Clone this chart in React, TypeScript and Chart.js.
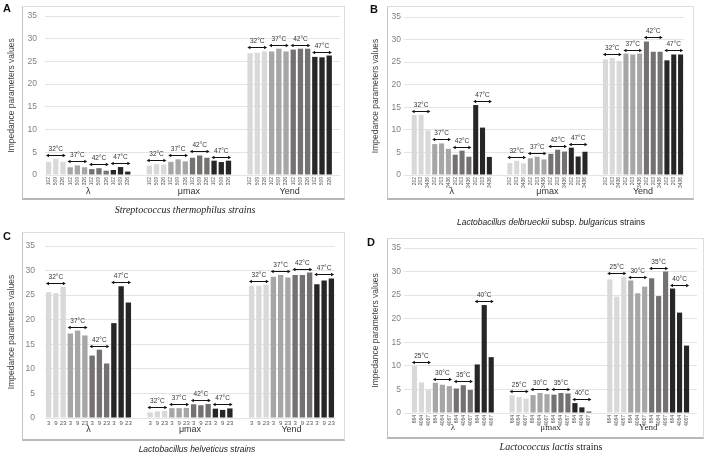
import React, { useEffect, useRef } from "react";
import { Chart, registerables } from "chart.js";
Chart.register(...registerables);

const groupLabels = ["λ", "μmax", "Yend"];
const tempsHigh = ["32°C", "37°C", "42°C", "47°C"];
const tempsLow = ["25°C", "30°C", "35°C", "40°C"];
const yAxisTitle = "Impedance parameters values";

const strainsA = ["102", "509", "326"];
const lambdaA = [2.9, 3.6, 2.9, 1.7, 2.1, 1.7, 1.3, 1.5, 0.95, 1.1, 1.75, 0.75];
const mumaxA = [2.05, 2.4, 2.3, 2.9, 3.45, 3.0, 3.8, 4.3, 3.8, 3.15, 2.85, 3.15];
const yendA = [26.8, 26.9, 27.2, 27.2, 27.8, 27.2, 27.6, 27.8, 27.8, 26.0, 25.9, 26.3];

const strainsB = ["202", "203", "3436"];
const lambdaB = [13.3, 13.3, 9.9, 6.85, 7.0, 5.8, 4.5, 5.4, 4.05, 15.5, 10.5, 4.0];
const mumaxB = [2.65, 3.15, 2.6, 3.7, 4.05, 3.45, 4.7, 5.6, 5.2, 6.05, 4.1, 5.15];
const yendB = [25.6, 25.9, 25.3, 26.9, 26.7, 26.9, 29.6, 27.3, 27.3, 25.4, 26.7, 26.7];

const strainsC = ["3", "9", "23"];
const lambdaC = [25.6, 25.4, 26.7, 17.2, 17.8, 16.8, 12.7, 13.9, 11.1, 19.3, 26.8, 23.5];
const mumaxC = [1.15, 1.35, 1.45, 2.0, 2.0, 2.05, 2.8, 2.6, 2.85, 1.9, 1.65, 1.95];
const yendC = [26.9, 26.9, 27.1, 28.75, 29.1, 28.6, 29.1, 29.1, 29.6, 27.2, 28.0, 28.4];

const strainsD = ["664", "4064", "4067"];
const lambdaD = [9.95, 6.5, 4.95, 6.4, 6.0, 5.7, 5.2, 5.9, 4.9, 10.3, 22.9, 11.85];
const mumaxD = [3.75, 3.4, 3.05, 3.8, 4.25, 4.0, 3.9, 4.25, 4.15, 2.1, 1.2, 0.3];
const yendD = [28.3, 24.7, 28.9, 28.1, 25.4, 26.8, 28.6, 24.8, 30.0, 26.4, 21.3, 14.3];

const SHADES = ["#d9d9d9", "#a6a6a6", "#767171", "#262626"];
const SANS = "'Liberation Sans', Arial, sans-serif";
const SERIF = "'Liberation Serif', 'Times New Roman', serif";

function buildSeries(lead: number, trail: number, groups: number[][], strains: string[]) {
  const labels: string[] = [];
  const values: (number | null)[] = [];
  const colors: string[] = [];
  const blank = () => {
    labels.push("");
    values.push(null);
    colors.push("rgba(0,0,0,0)");
  };
  for (let i = 0; i < lead; i++) blank();
  groups.forEach((g, gi) => {
    if (gi > 0) {
      blank();
      blank();
    }
    g.forEach((v, j) => {
      labels.push(strains[j % 3]);
      values.push(v);
      colors.push(SHADES[Math.floor(j / 3)]);
    });
  });
  for (let i = 0; i < trail; i++) blank();
  return { labels, values, colors };
}

const annotPlugin = {
  id: "annot",
  afterDatasetsDraw(chart: any, _args: any, opts: any) {
    const cfg = opts.cfg;
    if (!cfg) return;
    const { ctx, chartArea } = chart;
    const meta = chart.getDatasetMeta(0);
    ctx.save();
    for (let g = 0; g < 3; g++) {
      const base = cfg.lead + g * 14;
      const first = meta.data[base];
      const last = meta.data[base + 11];
      ctx.fillStyle = "#333333";
      ctx.font = `9px ${cfg.groupFont}`;
      ctx.textAlign = "center";
      ctx.textBaseline = "middle";
      ctx.fillText(groupLabels[g], (first.x + last.x) / 2, chartArea.bottom + cfg.groupOffset);
      for (let t = 0; t < 4; t++) {
        const els = [0, 1, 2].map((k) => meta.data[base + t * 3 + k]);
        const top = Math.min(...els.map((e: any) => e.y));
        const x1 = els[0].x - els[0].width / 2;
        const x2 = els[2].x + els[2].width / 2;
        const ay = Math.round(top - 4) + 0.5;
        ctx.strokeStyle = "#111111";
        ctx.fillStyle = "#111111";
        ctx.lineWidth = 1;
        ctx.beginPath();
        ctx.moveTo(x1 + 2, ay);
        ctx.lineTo(x2 - 2, ay);
        ctx.stroke();
        ctx.beginPath();
        ctx.moveTo(x1, ay);
        ctx.lineTo(x1 + 3, ay - 1.8);
        ctx.lineTo(x1 + 3, ay + 1.8);
        ctx.closePath();
        ctx.fill();
        ctx.beginPath();
        ctx.moveTo(x2, ay);
        ctx.lineTo(x2 - 3, ay - 1.8);
        ctx.lineTo(x2 - 3, ay + 1.8);
        ctx.closePath();
        ctx.fill();
        ctx.fillStyle = "#333333";
        ctx.font = `6.5px ${SANS}`;
        ctx.fillText(cfg.temps[t], (x1 + x2) / 2, ay - 6);
      }
    }
    ctx.restore();
  },
};

type PanelProps = {
  x: number;
  y: number;
  w: number;
  h: number;
  letter: string;
  letterPos: [number, number];
  frame: [number, number, number, number];
  area: { left: number; right: number; top: number; bottom: number };
  lead: number;
  trail: number;
  groups: number[][];
  strains: string[];
  temps: string[];
  yTitleX: number;
  yPad: number;
  groupOffset: number;
  groupFont: string;
  rotate: boolean;
  title: React.ReactNode;
  titlePos: [number, number];
  titleFont: string;
};

function Panel(p: PanelProps) {
  const ref = useRef<HTMLCanvasElement>(null);
  useEffect(() => {
    const s = buildSeries(p.lead, p.trail, p.groups, p.strains);
    const chart = new Chart(ref.current as HTMLCanvasElement, {
      type: "bar",
      data: {
        labels: s.labels,
        datasets: [
          {
            data: s.values,
            backgroundColor: s.colors,
            barPercentage: 0.74,
            categoryPercentage: 1,
          },
        ],
      },
      plugins: [annotPlugin],
      options: {
        responsive: false,
        animation: false,
        devicePixelRatio: 1,
        layout: {
          padding: { left: 0, top: p.area.top, right: p.w - p.area.right, bottom: 0 },
        },
        plugins: {
          legend: { display: false },
          tooltip: { enabled: false },
          annot: {
            cfg: { lead: p.lead, temps: p.temps, groupOffset: p.groupOffset, groupFont: p.groupFont },
          },
        } as any,
        scales: {
          x: {
            offset: true,
            grid: { display: false, drawTicks: false },
            border: { display: false },
            ticks: {
              autoSkip: false,
              minRotation: p.rotate ? 90 : 0,
              maxRotation: p.rotate ? 90 : 0,
              padding: 2,
              color: "#555555",
              font: { size: p.rotate ? 5 : 6, family: SANS },
            },
            afterFit: (sc: any) => {
              sc.height = p.h - p.area.bottom;
            },
          },
          y: {
            min: 0,
            max: 35,
            grid: { color: "#e4e4e4", drawTicks: false },
            border: { display: false },
            ticks: {
              stepSize: 5,
              padding: p.yPad,
              color: "#808080",
              font: { size: 8.5, family: SANS },
            },
            title: {
              display: true,
              text: yAxisTitle,
              color: "#404040",
              font: { size: 8.5, family: SANS },
              padding: { top: p.yTitleX - 5, bottom: 0 },
            },
            afterFit: (sc: any) => {
              sc.width = p.area.left;
            },
          },
        },
      } as any,
    });
    return () => chart.destroy();
  }, []);
  const [fl, ft, fr, fb] = p.frame;
  return (
    <div style={{ position: "absolute", left: p.x, top: p.y, width: p.w, height: p.h, overflow: "hidden" }}>
      <div
        style={{
          position: "absolute",
          left: fl,
          top: ft,
          width: fr - fl,
          height: fb - ft,
          boxSizing: "border-box",
          borderLeft: "1px solid #c4c4c4",
          borderTop: "1px solid #dedede",
          borderRight: "1px solid #dedede",
          borderBottom: "2px solid #b8b8b8",
        }}
      />
      <canvas
        ref={ref}
        width={p.w}
        height={p.h}
        style={{ position: "absolute", left: 0, top: 0, width: p.w, height: p.h }}
      />
      <div
        style={{
          position: "absolute",
          left: p.letterPos[0],
          top: p.letterPos[1],
          font: `bold 11px ${SANS}`,
          lineHeight: "11px",
          color: "#111",
        }}
      >
        {p.letter}
      </div>
      <div
        style={{
          position: "absolute",
          left: p.titlePos[0] - 170,
          width: 340,
          top: p.titlePos[1] - 6,
          lineHeight: "12px",
          textAlign: "center",
          fontFamily: p.titleFont,
          fontSize: p.titleFont === SERIF ? 10 : 8.5,
          color: "#222",
          whiteSpace: "nowrap",
        }}
      >
        {p.title}
      </div>
    </div>
  );
}

export default function App() {
  return (
    <div style={{ position: "absolute", left: 0, top: 0, width: 708, height: 455, background: "#fff", overflow: "hidden" }}>
      <Panel
        x={0}
        y={0}
        w={354}
        h={228}
        letter="A"
        letterPos={[3, 3]}
        frame={[22, 6, 345, 200]}
        area={{ left: 45, right: 340, top: 16, bottom: 175 }}
        lead={0}
        trail={1}
        groups={[lambdaA, mumaxA, yendA]}
        strains={strainsA}
        temps={tempsHigh}
        yTitleX={12}
        yPad={8}
        groupOffset={17}
        groupFont={SANS}
        rotate={true}
        title={<i>Streptococcus thermophilus strains</i>}
        titlePos={[185, 210]}
        titleFont={SERIF}
      />
      <Panel
        x={354}
        y={0}
        w={354}
        h={228}
        letter="B"
        letterPos={[16, 4]}
        frame={[33, 6, 340, 200]}
        area={{ left: 50, right: 330, top: 17, bottom: 175 }}
        lead={1}
        trail={0}
        groups={[lambdaB, mumaxB, yendB]}
        strains={strainsB}
        temps={tempsHigh}
        yTitleX={22}
        yPad={3}
        groupOffset={17}
        groupFont={SANS}
        rotate={true}
        title={
          <span>
            <i>Lactobacillus delbrueckii</i> subsp. <i>bulgaricus</i> strains
          </span>
        }
        titlePos={[197, 222]}
        titleFont={SANS}
      />
      <Panel
        x={0}
        y={228}
        w={354}
        h={227}
        letter="C"
        letterPos={[3, 3]}
        frame={[22, 4, 345, 213]}
        area={{ left: 45, right: 335, top: 18, bottom: 190 }}
        lead={0}
        trail={0}
        groups={[lambdaC, mumaxC, yendC]}
        strains={strainsC}
        temps={tempsHigh}
        yTitleX={12}
        yPad={10}
        groupOffset={12}
        groupFont={SANS}
        rotate={false}
        title={<i>Lactobacillus helveticus strains</i>}
        titlePos={[197, 221]}
        titleFont={SANS}
      />
      <Panel
        x={354}
        y={228}
        w={354}
        h={227}
        letter="D"
        letterPos={[13, 9]}
        frame={[33, 10, 350, 211]}
        area={{ left: 50, right: 343, top: 20, bottom: 185 }}
        lead={1}
        trail={1}
        groups={[lambdaD, mumaxD, yendD]}
        strains={strainsD}
        temps={tempsLow}
        yTitleX={22}
        yPad={3}
        groupOffset={15}
        groupFont={SERIF}
        rotate={true}
        title={
          <span>
            <i>Lactococcus lactis</i> strains
          </span>
        }
        titlePos={[197, 219]}
        titleFont={SERIF}
      />
    </div>
  );
}
